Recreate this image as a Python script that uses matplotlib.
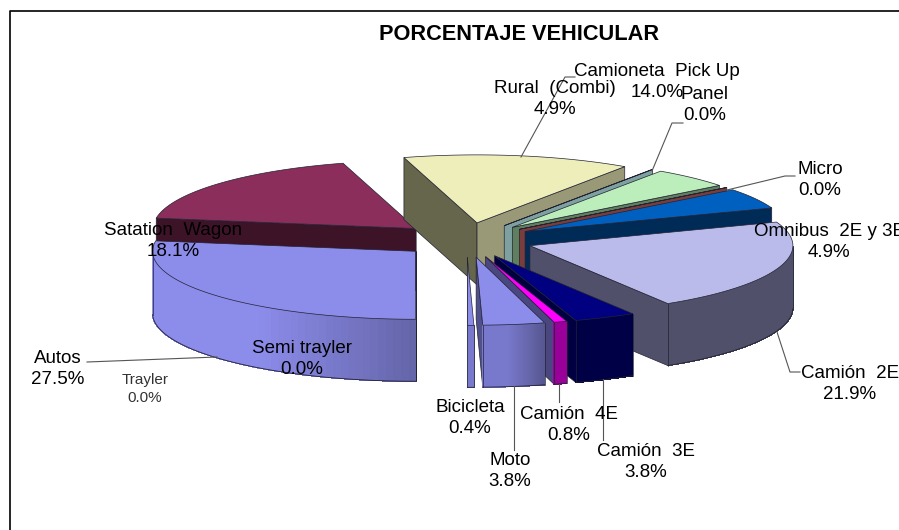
import numpy as np
import matplotlib
matplotlib.use('Agg')
import matplotlib.pyplot as plt
from matplotlib.colors import to_rgb

plt.rcParams['font.family'] = ['Liberation Sans', 'DejaVu Sans']

# clockwise from the front of the pie
names = ['Autos', 'Satation  Wagon', 'Camioneta  Pick Up', 'Panel', 'Rural  (Combi)', 'Micro',
         'Omnibus  2E y 3E', 'Camión  2E', 'Camión  3E', 'Camión  4E', 'Moto', 'Bicicleta',
         'Semi trayler', 'Trayler']
values = [27.5, 18.1, 14.0, 0.04, 4.9, 0.04, 4.9, 21.9, 3.8, 0.8, 3.8, 0.4, 0.0, 0.0]

top_colors = ['#8C8CEB', '#8B2E5C', '#EEEEBB', '#86AAAA', '#BBEEBB', '#8C4A4A', '#0060BF',
              '#BBBBEB', '#000080', '#FF00FF', '#8C8CEB', '#8C8CEB', '#8C8CEB', '#8C8CEB']
# radial face on the counter-clockwise end and on the clockwise end
ccw_colors = ['#8C8CEB', '#3D1328', '#66664C', '#7FA0A0', '#5F7F5F', '#7A3D3D', '#002B57',
              '#50506A', '#000040', '#4A4680', '#50508C', '#6C6CBE', '#50508C', '#50508C']
cw_colors = ['#8C8CEB', '#3D1328', '#999977', '#7FA0A0', '#5F7F5F', '#7A3D3D', '#002B57',
             '#50506A', '#000040', '#4A4680', '#50508C', '#6C6CBE', '#50508C', '#50508C']
rim_left = ['#8C8CEB', '#3D1328', '#66664C', '#7FA0A0', '#5F7F5F', '#7A3D3D', '#002B57',
            '#50506A', '#000046', '#990099', '#7878CC', '#7878CC', '#50508C', '#50508C']
rim_right = ['#6464A8', '#3D1328', '#66664C', '#7FA0A0', '#5F7F5F', '#7A3D3D', '#002B57',
             '#50506A', '#000046', '#990099', '#565690', '#7878CC', '#50508C', '#50508C']

cx, cy = 466.5, 240
rx, ry = 263, 68
height = 62
explode = 0.255

label_pos = [(58, 369), (173, 241), (657, 82), (705, 105), (555, 99), (820, 180), (829, 242),
             (850, 384), (646, 462), (569, 425), (510, 471), (470, 418), (302, 359), (145, 389)]

# leader lines
leaders = [[(217, 357), (87, 362)],
           [(521, 157), (565, 77), (575, 77)],
           [(652, 171), (672, 123), (683, 123)],
           [(727, 190), (785, 176), (795, 176)],
           [(777, 332), (790, 372), (800, 372)],
           [(514, 386), (514, 450)],
           [(559, 384), (559, 402)],
           [(603, 379), (603, 440)]]

fig = plt.figure(figsize=(8.99, 5.30), dpi=100)
ax = fig.add_axes([0, 0, 1, 1])
ax.set_xlim(0, 899)
ax.set_ylim(530, 0)
ax.axis('off')

edge = '#222233'


def rim(x0, y0, t):
    return x0 + rx * np.cos(t), y0 - ry * np.sin(t)


def face(x0, y0, t, color, z):
    xr, yr = rim(x0, y0, t)
    ax.fill([x0, xr, xr, x0], [y0, yr, yr + height, y0 + height],
            facecolor=color, edgecolor=edge, lw=0.5, zorder=z)


def draw_slice(i, t1, t2, z):
    # t1 > t2, going clockwise
    mid = (t1 + t2) / 2
    x0 = cx + explode * rx * np.cos(mid)
    y0 = cy - explode * ry * np.sin(mid)
    # radial faces that look at the viewer
    if np.sin(t1 + np.pi / 2) < 0:
        face(x0, y0, t1, ccw_colors[i], z)
    if np.sin(t2 - np.pi / 2) < 0:
        face(x0, y0, t2, cw_colors[i], z)
    # outer wall, only the front half shows
    tt = np.linspace(t1, t2, 60)
    tt = tt[np.sin(tt) <= 0]
    if len(tt) > 1:
        xs, ys = rim(x0, y0, tt)
        left, right = np.array(to_rgb(rim_left[i])), np.array(to_rgb(rim_right[i]))
        xlo, xhi = xs.min(), xs.max()
        for j in range(len(tt) - 1):
            f = ((xs[j] + xs[j + 1]) / 2 - xlo) / (xhi - xlo)
            f = max(0, (f - 0.4) / 0.6)
            c = left + (right - left) * f
            # no antialiasing here, it leaves stripes between the pieces
            ax.fill([xs[j], xs[j + 1], xs[j + 1], xs[j]],
                    [ys[j], ys[j + 1], ys[j + 1] + height, ys[j] + height],
                    facecolor=c, edgecolor=c, lw=0.4, antialiased=False, zorder=z)
        ax.plot(xs, ys + height, color=edge, lw=0.6, zorder=z)
        ax.plot([xs[0], xs[0]], [ys[0], ys[0] + height], color=edge, lw=0.5, zorder=z)
        ax.plot([xs[-1], xs[-1]], [ys[-1], ys[-1] + height], color=edge, lw=0.5, zorder=z)
    # top
    tt = np.linspace(t1, t2, 60)
    xs, ys = rim(x0, y0, tt)
    ax.fill(np.r_[x0, xs], np.r_[y0, ys], facecolor=top_colors[i], edgecolor=edge,
            lw=0.5, zorder=z + 0.5)


# slice angles come from the values, first slice starts straight down
total = sum(values)
angles = [3 * np.pi / 2]
for v in values:
    angles.append(angles[-1] - 2 * np.pi * v / total)

# paint from the back: Autos goes last
order = list(range(1, 12)) + [0]
for z, i in enumerate(order):
    draw_slice(i, angles[i], angles[i + 1], z + 1)

for pts in leaders:
    xs, ys = zip(*pts)
    ax.plot(xs, ys, color='#555555', lw=0.8, zorder=30)

for i, (name, v) in enumerate(zip(names, values)):
    x, y = label_pos[i]
    small = name == 'Trayler'
    ax.text(x, y, '%s\n%.1f%%' % (name, v), ha='center', va='center',
            fontsize=11 if small else 13.5, linespacing=1.28 if small else 1.35,
            color='#333333' if small else 'black', zorder=40, clip_on=False)

ax.text(519, 34.5, 'PORCENTAJE VEHICULAR', ha='center', va='center', fontsize=15.7,
        fontweight='bold', zorder=40)

# chart frame
ax.plot([9.5, 9.5, 899], [530, 10.5, 10.5], color='black', lw=1.2, zorder=50)

fig.savefig('out.png', dpi=100)
